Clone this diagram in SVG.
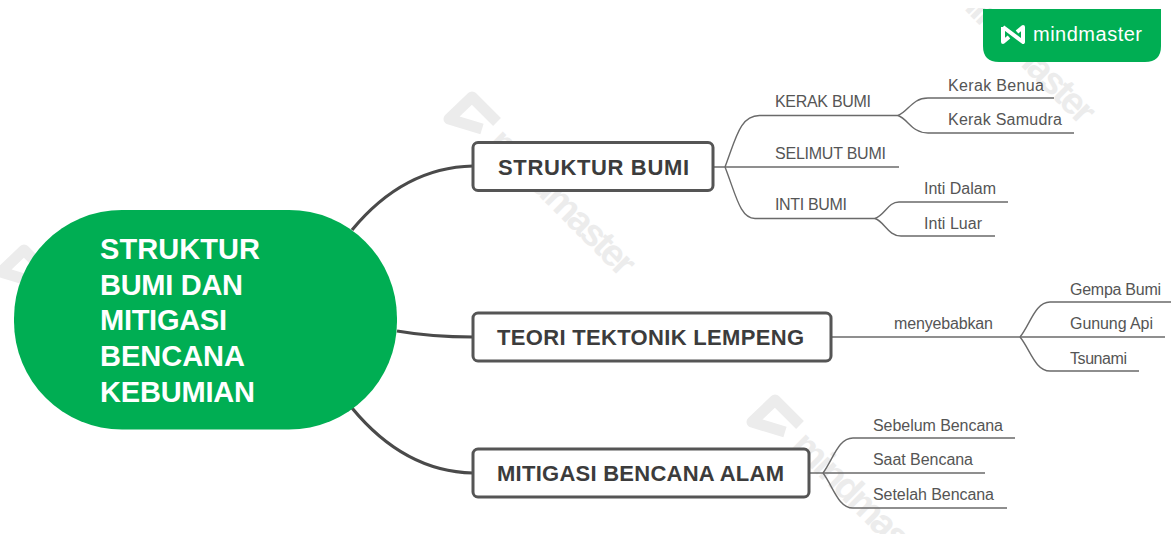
<svg xmlns="http://www.w3.org/2000/svg" width="1171" height="534" viewBox="0 0 1171 534">
<style>
text{font-family:"Liberation Sans",Arial,sans-serif}
.wm{font-size:38px;font-weight:700;fill:#ececec}
.wi{fill:none;stroke:#ececec;stroke-width:11;stroke-linejoin:round}
.c{font-size:29px;font-weight:700;fill:#fff}
.m{fill:#fff;stroke:#555;stroke-width:3}
.mt{font-size:22px;font-weight:700;fill:#3c3c3c}
.s{font-size:16px;fill:#555}
.thick{fill:none;stroke:#4a4a4a;stroke-width:3.2}
.thin{fill:none;stroke:#6a6a6a;stroke-width:1.4}
</style>
<defs>
<path id="wmicon" class="wi" d="M25 25L0 0L-23 22L10 32"/>
<clipPath id="top"><rect x="900" y="8" width="271" height="140"/></clipPath>
</defs>
<rect width="1171" height="534" fill="#fff"/>
<g id="watermarks">
<use href="#wmicon" x="472" y="97"/>
<text class="wm" transform="translate(498,137) rotate(45)" x="-3" y="13" textLength="190">mindmaster</text>
<use href="#wmicon" x="775" y="400"/>
<text class="wm" transform="translate(801,440) rotate(45)" x="-3" y="13" textLength="190">mindmaster</text>
<g clip-path="url(#top)"><text class="wm" transform="translate(958,-15) rotate(45)" x="-3" y="13" textLength="190">mindmaster</text></g>
<use href="#wmicon" x="24" y="250"/>
</g>
<g id="connectors">
<path class="thick" d="M352 230C385 190 425 167 473 166"/>
<path class="thick" d="M397 331C420 335 440 337 473 337"/>
<path class="thick" d="M352 408C385 448 425 472 473 473"/>
<path class="thin" d="M713 167H899"/>
<path class="thin" d="M725 167C736 138 740 115 760 115.500H898"/>
<path class="thin" d="M725 167C736 195 740 218.500 755 218.500H875"/>
<path class="thin" d="M898 115.500C908 112 912 98 928 98H1054"/>
<path class="thin" d="M898 115.500C908 119 912 133 928 133H1074"/>
<path class="thin" d="M875 218.500C885 215 888 202 899 202H1008"/>
<path class="thin" d="M875 218.500C885 222 888 236 901 236H995"/>
<path class="thin" d="M831 337H1165"/>
<path class="thin" d="M1020 337C1030 325 1035 302 1050 302H1171"/>
<path class="thin" d="M1020 337C1030 349 1035 371 1050 371H1139"/>
<path class="thin" d="M809 473H985"/>
<path class="thin" d="M823 473C833 460 838 438 853 438H1015"/>
<path class="thin" d="M823 473C833 486 838 508 853 508H1007"/>
</g>
<g id="logo">
<path d="M983 9H1161V46Q1161 62 1145 62H999Q983 62 983 46Z" fill="#00ae53"/>
<path d="M1003 27V42L1009 37M1003 27L1023 42V27L1017 32" fill="none" stroke="#fff" stroke-width="4" stroke-linejoin="round"/>
<text x="1033" y="41" font-size="20" fill="#fff" textLength="109">mindmaster</text>
</g>
<g id="central"><rect x="14" y="210" width="383" height="219.500" rx="108" fill="#00ae53"/>
<text class="c" x="100" y="259" textLength="160">STRUKTUR</text><text class="c" x="100" y="295" textLength="143">BUMI DAN</text><text class="c" x="100" y="330" textLength="127">MITIGASI</text><text class="c" x="100" y="366" textLength="145">BENCANA</text><text class="c" x="100" y="402" textLength="155">KEBUMIAN</text></g>
<g id="n1"><rect class="m" x="473" y="142.500" width="240" height="48" rx="5"/><text class="mt" x="498" y="175" textLength="191">STRUKTUR BUMI</text></g>
<g id="n2"><rect class="m" x="473" y="313" width="358" height="48" rx="5"/><text class="mt" x="497" y="345" textLength="307">TEORI TEKTONIK LEMPENG</text></g>
<g id="n3"><rect class="m" x="473" y="449" width="336" height="48" rx="5"/><text class="mt" x="497" y="481" textLength="287">MITIGASI BENCANA ALAM</text></g>
<g id="kerak-bumi"><text class="s" x="775" y="107" textLength="96">KERAK BUMI</text></g>
<g id="selimut-bumi"><text class="s" x="775" y="159" textLength="111">SELIMUT BUMI</text></g>
<g id="inti-bumi"><text class="s" x="775" y="210" textLength="72">INTI BUMI</text></g>
<g id="kerak-benua"><text class="s" x="948" y="91" textLength="96">Kerak Benua</text></g>
<g id="kerak-samudra"><text class="s" x="948" y="125" textLength="114">Kerak Samudra</text></g>
<g id="inti-dalam"><text class="s" x="924" y="194" textLength="72">Inti Dalam</text></g>
<g id="inti-luar"><text class="s" x="924" y="229" textLength="58">Inti Luar</text></g>
<g id="menyebabkan"><text class="s" x="894" y="329" textLength="99">menyebabkan</text></g>
<g id="gempa-bumi"><text class="s" x="1070" y="295" textLength="91">Gempa Bumi</text></g>
<g id="gunung-api"><text class="s" x="1070" y="329" textLength="83">Gunung Api</text></g>
<g id="tsunami"><text class="s" x="1070" y="364" textLength="57">Tsunami</text></g>
<g id="sebelum"><text class="s" x="873" y="431" textLength="130">Sebelum Bencana</text></g>
<g id="saat"><text class="s" x="873" y="465" textLength="100">Saat Bencana</text></g>
<g id="setelah"><text class="s" x="873" y="500" textLength="121">Setelah Bencana</text></g>
</svg>
